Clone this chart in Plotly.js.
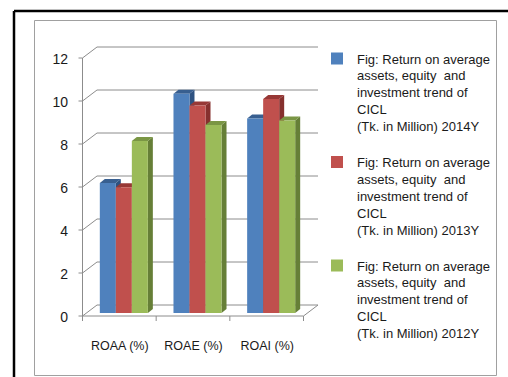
<!DOCTYPE html>
<html>
<head>
<meta charset="utf-8">
<script src="https://cdn.plot.ly/plotly-3.0.1.min.js"></script>
<style>
html,body{margin:0;padding:0;background:#fff;}
#chart{width:508px;height:377px;}
</style>
</head>
<body>
<div id="chart"></div>
<script>
// ---- data ----
var categories = ["ROAA (%)", "ROAE (%)", "ROAI (%)"];
var values2014 = [6.05, 10.2, 9.05];
var values2013 = [5.85, 9.65, 9.95];
var values2012 = [8.0, 8.75, 8.95];
var seriesNames = [
  "Fig: Return on average<br>assets, equity  and<br>investment trend of<br>CICL<br>(Tk. in Million) 2014Y",
  "Fig: Return on average<br>assets, equity  and<br>investment trend of<br>CICL<br>(Tk. in Million) 2013Y",
  "Fig: Return on average<br>assets, equity  and<br>investment trend of<br>CICL<br>(Tk. in Million) 2012Y"
];
var yTicks = [0, 2, 4, 6, 8, 10, 12];

// ---- styling / geometry ----
var W = 508, H = 377;
var M = {l: 87, r: 200, t: 55, b: 64, autoexpand: false};
var plotW = W - M.l - M.r, plotH = H - M.t - M.b;
var yMax = 12, nCat = categories.length;
var pxX = plotW / nCat;      // px per category unit
var pxY = plotH / yMax;      // px per value unit
var frontColors = ["#4F81BD", "#C0504D", "#9BBB59"];
var sideColors  = ["#2E5281", "#86302E", "#667F37"];
var topColors   = ["#385F90", "#973836", "#7A9644"];
var gridColor = "#8C8C8C";
var bargap = 0.348;
var depthX = 5, depthY = 4;          // bar 3D depth in px
var backDX = 10, backDY = 8;         // back wall offset from bar plane (px)
var frontDX = -4.5, frontDY = -3;    // front plane offset (px)

function px2dx(p){ return p / pxX; }
function px2dy(p){ return p / pxY; }
function pX(x){ return (x + 0.5) / nCat; }
function pY(y){ return y / yMax; }

var allSeries = [values2014, values2013, values2012];
var traces = allSeries.map(function(vals, i){
  return {
    type: "bar", x: categories, y: vals, name: seriesNames[i],
    marker: {color: frontColors[i], line: {width: 0}},
    legendgroup: "g" + i, hoverinfo: "skip"
  };
});

var shapes = [];
var lineStyle = {color: gridColor, width: 1};
yTicks.forEach(function(v){
  var bx0 = pX(-0.5 + px2dx(backDX)), bx1 = pX(nCat - 0.5 + px2dx(backDX));
  var by = pY(v + px2dy(backDY));
  var fx = pX(-0.5 + px2dx(frontDX)), fy = pY(v + px2dy(frontDY));
  shapes.push({type: "line", xref: "paper", yref: "paper", x0: bx0, x1: bx1, y0: by, y1: by, line: lineStyle, layer: "below"});
  shapes.push({type: "line", xref: "paper", yref: "paper", x0: fx, x1: bx0, y0: fy, y1: by, line: lineStyle, layer: "below"});
  shapes.push({type: "line", xref: "paper", yref: "paper", x0: fx - px2dx(4)/nCat, x1: fx, y0: fy, y1: fy, line: lineStyle, layer: "below"});
});
(function(){
  var fx = pX(-0.5 + px2dx(frontDX));
  shapes.push({type: "line", xref: "paper", yref: "paper", x0: fx, x1: fx,
    y0: pY(px2dy(frontDY)) - px2dy(5)/yMax, y1: pY(yMax + px2dy(frontDY)), line: lineStyle, layer: "below"});
  var fy = pY(px2dy(frontDY));
  var fxr = pX(nCat - 0.5 + px2dx(frontDX));
  shapes.push({type: "line", xref: "paper", yref: "paper", x0: fx, x1: fxr, y0: fy, y1: fy, line: lineStyle, layer: "below"});
  shapes.push({type: "line", xref: "paper", yref: "paper", x0: fxr, x1: pX(nCat - 0.5 + px2dx(backDX)),
    y0: fy, y1: pY(px2dy(backDY)), line: lineStyle, layer: "below"});
  for (var k = 1; k <= nCat; k++) {
    var tx = pX(k - 0.5 + px2dx(frontDX));
    shapes.push({type: "line", xref: "paper", yref: "paper", x0: tx, x1: tx, y0: fy, y1: fy - px2dy(5)/yMax, line: lineStyle, layer: "below"});
  }
})();
var groupW = 1 - bargap, bw = groupW / allSeries.length;
categories.forEach(function(c, j){
  allSeries.forEach(function(vals, i){
    var v = vals[j];
    var left = j - groupW / 2 + i * bw, right = left + bw;
    var dx = px2dx(depthX), dy = px2dy(depthY);
    shapes.push({type: "path", xref: "x", yref: "y", layer: "below", line: {width: 0},
      fillcolor: sideColors[i],
      path: "M" + right + "," + 0 + " L" + (right + dx) + "," + dy + " L" + (right + dx) + "," + (v + dy) + " L" + right + "," + v + " Z"});
    shapes.push({type: "path", xref: "x", yref: "y", layer: "below", line: {width: 0},
      fillcolor: topColors[i],
      path: "M" + left + "," + v + " L" + (left + dx) + "," + (v + dy) + " L" + (right + dx) + "," + (v + dy) + " L" + right + "," + v + " Z"});
  });
});
function paperX(p){ return (p - M.l) / plotW; }
function paperY(p){ return (H - M.b - p) / plotH; }
shapes.push({type: "line", xref: "paper", yref: "paper", layer: "above",
  x0: paperX(14), x1: paperX(W + 5), y0: paperY(11), y1: paperY(11), line: {color: "#000", width: 2.5}});
shapes.push({type: "line", xref: "paper", yref: "paper", layer: "above",
  x0: paperX(14), x1: paperX(14), y0: paperY(11), y1: paperY(H + 5), line: {color: "#000", width: 2.5}});
shapes.push({type: "rect", xref: "paper", yref: "paper", layer: "above",
  x0: paperX(34.5), x1: paperX(496.5), y0: paperY(20.5), y1: paperY(375.5), line: {color: "#A0A0A0", width: 1}});

var sans = "'Liberation Sans', Arial, sans-serif";
var layout = {
  width: W, height: H,
  margin: M,
  paper_bgcolor: "#fff", plot_bgcolor: "rgba(0,0,0,0)",
  barmode: "group", bargap: bargap, bargroupgap: 0,
  showlegend: true,
  legend: {
    x: paperX(317), xanchor: "left",
    y: paperY(43.5), yanchor: "top",
    valign: "top", tracegroupgap: 16, maxheight: 400,
    font: {family: sans, size: 13, color: "#1a1a1a"},
    bgcolor: "rgba(0,0,0,0)", traceorder: "grouped"
  },
  xaxis: {
    range: [-0.5, nCat - 0.5], showgrid: false, showline: false, zeroline: false,
    ticks: "", ticklabelshift: -4, ticklabelstandoff: 23,
    tickfont: {family: sans, size: 12.5, color: "#1a1a1a"}, fixedrange: true
  },
  yaxis: {
    range: [0, yMax], tickvals: yTicks, showgrid: false, showline: false, zeroline: false,
    ticks: "", ticklabelshift: 4, ticklabelstandoff: 18,
    tickfont: {family: sans, size: 14, color: "#1a1a1a"}, fixedrange: true
  },
  shapes: shapes
};

Plotly.newPlot("chart", traces, layout, {displayModeBar: false, staticPlot: true});
</script>
</body>
</html>
